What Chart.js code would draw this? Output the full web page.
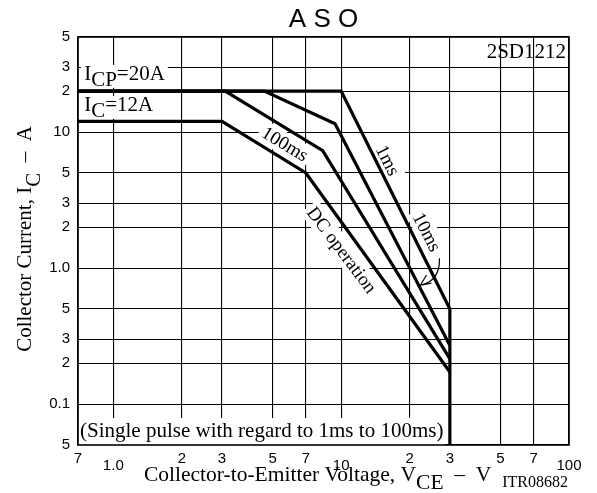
<!DOCTYPE html>
<html>
<head>
<meta charset="utf-8">
<title>ASO 2SD1212</title>
<script src="https://cdn.jsdelivr.net/npm/chart.js@4.4.1/dist/chart.umd.min.js"></script>
<style>
  html, body { margin: 0; padding: 0; background: #fff; }
</style>
</head>
<body>
<canvas id="aso" width="597" height="493"></canvas>
<script>
// axis ticks (values and printed labels)
const xTicks = [0.7, 1, 2, 3, 5, 7, 10, 20, 30, 50, 70, 100];
const xTickLabels = ['7', '1.0', '2', '3', '5', '7', '10', '2', '3', '5', '7', '100'];
const yTicks = [0.05, 0.1, 0.2, 0.3, 0.5, 1, 2, 3, 5, 10, 20, 30, 50];
const yTickLabels = ['5', '0.1', '2', '3', '5', '1.0', '2', '3', '5', '10', '2', '3', '5'];

// safe operating area boundaries, VCE (V) / IC (A)
const vce1ms = [0.7, 10, 30, 30];
const ic1ms = [20, 20, 0.5, 0.05];
const vce10ms = [0.7, 4.6, 9.4, 30];
const ic10ms = [20, 20, 11.5, 0.27];
const vce100ms = [0.7, 3.1, 8.3, 30];
const ic100ms = [20, 20, 7.3, 0.215];
const vceDC = [0.7, 3, 7, 30];
const icDC = [12, 12, 5, 0.172];

// curve labels: text, VCE, IC, angle (deg)
const curveLabels = [
    ['100ms', 5.67, 8.17, 31],
    ['1ms', 16, 6.2, 63],
    ['10ms', 23.8, 1.84, 63],
    ['DC operation', 10.06, 1.36, 53]
];

const SERIF = '"Liberation Serif", "Times New Roman", serif';
const SANS = '"Liberation Sans", Arial, sans-serif';

function toPoints(xs, ys) {
    return xs.map((x, i) => ({ x: x, y: ys[i] }));
}

function curve(xs, ys) {
    return {
        data: toPoints(xs, ys),
        showLine: true,
        borderColor: '#000',
        borderWidth: 3.2,
        pointRadius: 0,
        tension: 0,
        fill: false
    };
}

// text with full-size lowered subscripts, parts = [[text, isSub], ...]
function drawRich(ctx, parts, x, y, align, drop) {
    let total = 0;
    parts.forEach(p => total += ctx.measureText(p[0]).width);
    let cx = x;
    if (align === 'center') cx = x - total / 2;
    if (align === 'right') cx = x - total;
    ctx.textAlign = 'left';
    parts.forEach(p => {
        ctx.fillText(p[0], cx, p[1] ? y + drop : y);
        cx += ctx.measureText(p[0]).width;
    });
    return total;
}

const asoDecor = {
    id: 'asoDecor',
    beforeDatasetsDraw(chart) {
        const ctx = chart.ctx;
        const xs = chart.scales.x, ys = chart.scales.y;
        const area = chart.chartArea;
        ctx.save();
        ctx.textBaseline = 'alphabetic';

        // ICP / IC labels with white boxes
        ctx.font = '21px ' + SERIF;
        const lx = xs.getPixelForValue(0.745);
        [[[['I', false], ['CP', true], ['=20A', false]], 24.2],
         [[['I', false], ['C', true], ['=12A', false]], 14.3]].forEach(item => {
            const by = ys.getPixelForValue(item[1]);
            let w = 0;
            item[0].forEach(p => w += ctx.measureText(p[0]).width);
            ctx.fillStyle = '#fff';
            ctx.fillRect(lx - 3, by - 15, w + 6, 23);
            ctx.fillStyle = '#000';
            drawRich(ctx, item[0], lx, by, 'left', 6);
        });

        // single pulse note
        const note = '(Single pulse with regard to 1ms to 100ms)';
        const nw = ctx.measureText(note).width;
        ctx.fillStyle = '#fff';
        ctx.fillRect(area.left, area.bottom - 27, nw + 4, 27);
        ctx.fillStyle = '#000';
        ctx.fillText(note, area.left + 2, area.bottom - 8);

        // rotated curve labels
        ctx.font = '19px ' + SERIF;
        curveLabels.forEach(l => {
            const px = xs.getPixelForValue(l[1]);
            const py = ys.getPixelForValue(l[2]);
            const w = ctx.measureText(l[0]).width;
            ctx.save();
            ctx.translate(px, py);
            ctx.rotate(l[3] * Math.PI / 180);
            ctx.fillStyle = '#fff';
            ctx.fillRect(-w / 2 - 3, -11, w + 6, 22);
            ctx.fillStyle = '#000';
            ctx.textAlign = 'center';
            ctx.textBaseline = 'middle';
            ctx.fillText(l[0], 0, 1);
            ctx.restore();
        });
        ctx.restore();
    },
    afterDraw(chart) {
        const ctx = chart.ctx;
        const xs = chart.scales.x, ys = chart.scales.y;
        const area = chart.chartArea;
        ctx.save();

        // frame
        ctx.strokeStyle = '#000';
        ctx.lineWidth = 1.6;
        ctx.strokeRect(area.left, area.top, area.right - area.left, area.bottom - area.top);

        // arrow pointing at the 10ms line
        const a0x = xs.getPixelForValue(27), a0y = ys.getPixelForValue(1.18);
        const acx = xs.getPixelForValue(27.2), acy = ys.getPixelForValue(0.8);
        const tx = xs.getPixelForValue(22.3), ty = ys.getPixelForValue(0.75);
        ctx.lineWidth = 1.2;
        ctx.beginPath();
        ctx.moveTo(a0x, a0y);
        ctx.quadraticCurveTo(acx, acy, tx, ty);
        ctx.moveTo(tx + 6, ty - 10);
        ctx.lineTo(tx, ty);
        ctx.lineTo(tx + 11, ty - 2);
        ctx.stroke();

        // x tick labels, decades set a bit lower
        ctx.fillStyle = '#000';
        ctx.font = '15px ' + SANS;
        ctx.textAlign = 'center';
        ctx.textBaseline = 'alphabetic';
        xTicks.forEach((v, i) => {
            const decade = (v === 1 || v === 10 || v === 100);
            ctx.fillText(xTickLabels[i], xs.getPixelForValue(v), area.bottom + (decade ? 25 : 18));
        });

        // title
        ctx.font = '26px ' + SANS;
        ctx.fillText('A S O', (area.left + area.right) / 2, 27);

        // part number
        ctx.font = '21px ' + SERIF;
        ctx.textAlign = 'right';
        ctx.fillText('2SD1212', area.right - 3, area.top + 21);

        // x axis title
        ctx.font = '21.5px ' + SERIF;
        drawRich(ctx, [['Collector-to-Emitter Voltage, V', false], ['CE', true], ['  \u2013  V', false]],
            144, 481, 'left', 8);
        ctx.font = '16px ' + SERIF;
        ctx.textAlign = 'right';
        ctx.fillText('ITR08682', area.right - 1, 487);

        // y axis title
        ctx.font = '21px ' + SERIF;
        ctx.translate(31, 239);
        ctx.rotate(-Math.PI / 2);
        drawRich(ctx, [['Collector Current, I', false], ['C', true], ['  \u2013  A', false]], 0, 0, 'center', 9);
        ctx.restore();
    }
};

new Chart(document.getElementById('aso'), {
    type: 'scatter',
    data: {
        datasets: [
            curve(vce1ms, ic1ms),
            curve(vce10ms, ic10ms),
            curve(vce100ms, ic100ms),
            curve(vceDC, icDC)
        ]
    },
    options: {
        responsive: false,
        animation: false,
        devicePixelRatio: 1,
        layout: { padding: { top: 37, right: 28, left: 0, bottom: 0 } },
        plugins: {
            legend: { display: false },
            tooltip: { enabled: false }
        },
        scales: {
            x: {
                type: 'logarithmic',
                min: 0.7,
                max: 100,
                afterBuildTicks: s => { s.ticks = xTicks.map(v => ({ value: v })); },
                afterFit: s => { s.height = 48; },
                ticks: { display: false },
                grid: { color: '#000', lineWidth: 1.1, drawTicks: false },
                border: { display: false }
            },
            y: {
                type: 'logarithmic',
                min: 0.05,
                max: 50,
                afterBuildTicks: s => { s.ticks = yTicks.map(v => ({ value: v })); },
                afterFit: s => { s.width = 78; },
                ticks: {
                    autoSkip: false,
                    padding: 8,
                    color: '#000',
                    font: { family: SANS, size: 15 },
                    callback: (v, i) => yTickLabels[i]
                },
                grid: { color: '#000', lineWidth: 1.1, drawTicks: false },
                border: { display: false }
            }
        }
    },
    plugins: [asoDecor]
});
</script>
</body>
</html>
